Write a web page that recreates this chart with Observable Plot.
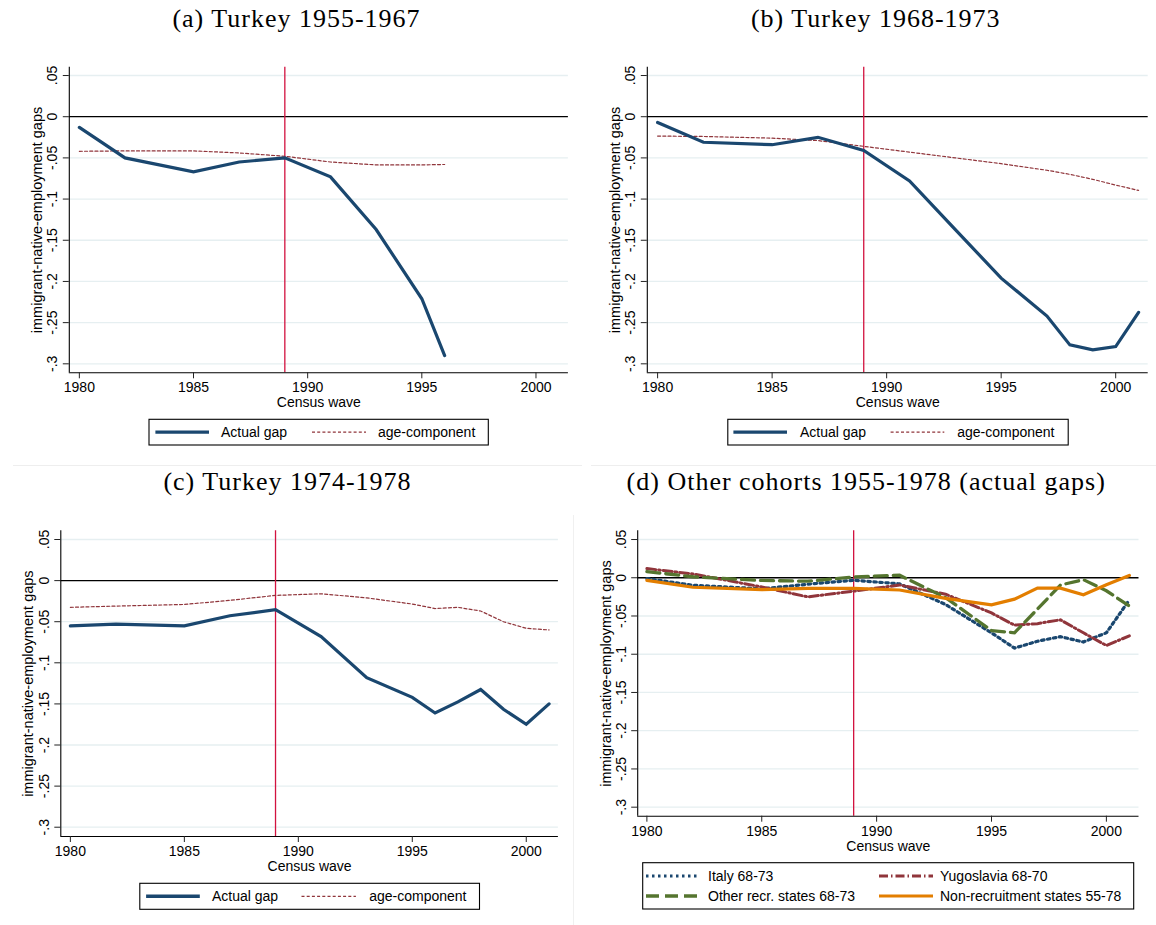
<!DOCTYPE html>
<html><head><meta charset="utf-8">
<script src="https://cdn.jsdelivr.net/npm/d3@7"></script>
<script src="https://cdn.jsdelivr.net/npm/@observablehq/plot@0.6"></script>
<style>
body{margin:0;background:#fff;}
#root{position:relative;width:1156px;height:925px;overflow:hidden;background:#fff;}
#root svg.panel{position:absolute;}
#overlay{position:absolute;left:0;top:0;pointer-events:none;}
</style></head><body><div id="root"></div>
<script>
// ---------- data ----------
const yTickValues = [0.05, 0, -0.05, -0.1, -0.15, -0.2, -0.25, -0.3];
const yTickLabels = [".05", "0", "-.05", "-.1", "-.15", "-.2", "-.25", "-.3"];
const xTickValues = [1980, 1985, 1990, 1995, 2000];
const xTickLabels = ["1980", "1985", "1990", "1995", "2000"];
const reformYear = 1989;

const titles = ["(a) Turkey 1955-1967", "(b) Turkey 1968-1973", "(c) Turkey 1974-1978", "(d) Other cohorts 1955-1978 (actual gaps)"];
const yLabel = "immigrant-native-employment gaps";
const xLabel = "Census wave";

const yearsA = [1980, 1982, 1985, 1987, 1989, 1991, 1993, 1995, 1996];
const actualA = [-0.013, -0.050, -0.067, -0.055, -0.050, -0.073, -0.137, -0.221, -0.290];
const ageA = [-0.042, -0.0415, -0.0415, -0.044, -0.048, -0.055, -0.0585, -0.0585, -0.058];

const yearsB = [1980, 1982, 1985, 1987, 1989, 1991, 1993, 1995, 1997, 1998, 1999, 2000, 2001];
const actualB = [-0.007, -0.031, -0.034, -0.025, -0.041, -0.078, -0.137, -0.196, -0.242, -0.277, -0.283, -0.279, -0.2375];
const ageB = [-0.0235, -0.024, -0.026, -0.029, -0.036, -0.043, -0.050, -0.057, -0.065, -0.070, -0.076, -0.083, -0.0895];

const yearsC = [1980, 1982, 1985, 1987, 1989, 1991, 1993, 1995, 1996, 1997, 1998, 1999, 2000, 2001];
const actualC = [-0.055, -0.053, -0.055, -0.0427, -0.0354, -0.068, -0.118, -0.142, -0.161, -0.1476, -0.1325, -0.1565, -0.1748, -0.150];
const ageC = [-0.0325, -0.031, -0.029, -0.024, -0.018, -0.016, -0.021, -0.0285, -0.034, -0.0325, -0.037, -0.050, -0.058, -0.060];

const yearsD = [1980, 1982, 1985, 1987, 1989, 1991, 1993, 1995, 1996, 1997, 1998, 1999, 2000, 2001];
const italy = [-0.001, -0.0098, -0.0145, -0.0085, -0.0032, -0.008, -0.035, -0.072, -0.092, -0.083, -0.077, -0.084, -0.072, -0.029];
const yugoslavia = [0.012, 0.005, -0.012, -0.025, -0.0175, -0.0095, -0.0215, -0.046, -0.062, -0.060, -0.055, -0.072, -0.0886, -0.076];
const otherRecr = [0.008, 0.0013, -0.0035, -0.0045, 0.001, 0.0033, -0.026, -0.069, -0.072, -0.041, -0.0095, -0.0025, -0.017, -0.037];
const nonRecr = [-0.0035, -0.0124, -0.0155, -0.014, -0.014, -0.016, -0.027, -0.0355, -0.028, -0.0134, -0.0136, -0.0222, -0.0092, 0.003];

const legendTurkey = ["Actual gap", "age-component"];
const legendOthers = ["Italy 68-73", "Yugoslavia 68-70", "Other recr. states 68-73", "Non-recruitment states 55-78"];

// ---------- styles ----------
const NAVY = "#1a476f", MAROON = "#90353b", GREEN = "#55752f", ORANGE = "#e37e00";
const RED = "#d2123f", GRID = "#e6eff1";
const SANS = "'Liberation Sans', Arial, sans-serif";
const SERIF = "'Liberation Serif', 'Times New Roman', serif";
const DOT = "2.5,3.5", DASHDOT = "9,3,1.5,3", LONGDASH = "13,6", AGEDASH = "3,2.2";

const toRows = (years, vals) => years.map((yr, i) => ({year: yr, v: vals[i]}));

function makePanel(cfg) {
  const marks = [
    Plot.ruleY(yTickValues.filter(v => v !== 0), {y: d => d, stroke: GRID, strokeWidth: 1.3}),
    Plot.ruleY([0], {stroke: "#000", strokeWidth: 1.3}),
    Plot.ruleX([reformYear], {stroke: RED, strokeWidth: 1.3}),
    ...cfg.series.map(s => Plot.line(toRows(s.years, s.values), {
      x: "year", y: "v", stroke: s.color, strokeWidth: s.width,
      strokeDasharray: s.dash || null, strokeLinejoin: "miter", strokeMiterlimit: 2
    })),
    Plot.ruleX([cfg.xDomain[0]], {stroke: "#000", strokeWidth: 1.1}),
    Plot.ruleY([cfg.yDomain[0]], {stroke: "#000", strokeWidth: 1.1}),
    Plot.axisY({ticks: yTickValues, tickFormat: () => "", tickSize: 6, stroke: "#222", label: null}),
    Plot.text(yTickValues, {y: d => d, text: (d, i) => yTickLabels[i], frameAnchor: "left",
      rotate: -90, dx: -12, textAnchor: "middle", lineAnchor: "bottom", fontSize: 14, fill: "#000"}),
    Plot.axisX({ticks: xTickValues, tickFormat: (d) => xTickLabels[xTickValues.indexOf(d)], tickSize: 6,
      tickPadding: 3.5, fontSize: 14, stroke: "#222", label: null}),
    Plot.text([xLabel], {frameAnchor: "bottom", dy: 30, lineAnchor: "middle", fontSize: 14, fill: "#000"}),
    Plot.text([yLabel], {frameAnchor: "left", rotate: -90, dx: cfg.ylabDx, textAnchor: "middle",
      lineAnchor: "middle", fontSize: 14.5, fill: "#000"})
  ];
  const svg = Plot.plot({
    width: cfg.width, height: cfg.height,
    marginLeft: cfg.mL, marginRight: cfg.mR, marginTop: cfg.mT, marginBottom: cfg.mB,
    x: {domain: cfg.xDomain, type: "linear"},
    y: {domain: cfg.yDomain, type: "linear"},
    style: {fontFamily: SANS, fontSize: "14px", background: "transparent", color: "#000"},
    marks
  });
  svg.classList.add("panel");
  svg.style.left = cfg.left + "px";
  svg.style.top = cfg.top + "px";
  svg.style.maxWidth = "none";
  document.getElementById("root").appendChild(svg);
}

makePanel({left: 0, top: 40, width: 578, height: 380, mL: 68.8, mR: 10.1, mT: 26.7, mB: 47.7,
  xDomain: [1979.56, 2001.42], yDomain: [-0.3109, 0.0601], ylabDx: -32,
  series: [
    {years: yearsA, values: ageA, color: MAROON, width: 1.2, dash: AGEDASH},
    {years: yearsA, values: actualA, color: NAVY, width: 3.2}
  ]});
makePanel({left: 578, top: 40, width: 578, height: 380, mL: 68.8, mR: 8.3, mT: 26.7, mB: 47.7,
  xDomain: [1979.55, 2001.42], yDomain: [-0.3109, 0.0601], ylabDx: -32,
  series: [
    {years: yearsB, values: ageB, color: MAROON, width: 1.2, dash: AGEDASH},
    {years: yearsB, values: actualB, color: NAVY, width: 3.2}
  ]});
makePanel({left: 0, top: 500, width: 578, height: 380, mL: 60.3, mR: 20.1, mT: 30.3, mB: 44,
  xDomain: [1979.58, 2001.41], yDomain: [-0.3113, 0.0606], ylabDx: -32.6,
  series: [
    {years: yearsC, values: ageC, color: MAROON, width: 1.2, dash: AGEDASH},
    {years: yearsC, values: actualC, color: NAVY, width: 3.2}
  ]});
makePanel({left: 578, top: 500, width: 578, height: 360, mL: 59.2, mR: 17.5, mT: 30.3, mB: 44.3,
  xDomain: [1979.6, 2001.42], yDomain: [-0.3118, 0.0614], ylabDx: -31.5,
  series: [
    {years: yearsD, values: italy, color: NAVY, width: 3.2, dash: DOT},
    {years: yearsD, values: yugoslavia, color: MAROON, width: 3, dash: DASHDOT},
    {years: yearsD, values: otherRecr, color: GREEN, width: 3.3, dash: LONGDASH},
    {years: yearsD, values: nonRecr, color: ORANGE, width: 3.2}
  ]});

// ---------- overlay: titles, legends, separators ----------
const NS = "http://www.w3.org/2000/svg";
const ov = document.createElementNS(NS, "svg");
ov.setAttribute("id", "overlay");
ov.setAttribute("width", 1156); ov.setAttribute("height", 925);
document.getElementById("root").appendChild(ov);
function el(tag, attrs, text) {
  const e = document.createElementNS(NS, tag);
  for (const k in attrs) e.setAttribute(k, attrs[k]);
  if (text != null) e.textContent = text;
  ov.appendChild(e);
  return e;
}
// faint separators
el("line", {x1: 13, x2: 582, y1: 465.5, y2: 465.5, stroke: "#eeeeee", "stroke-width": 1});
el("line", {x1: 591, x2: 1156, y1: 465.5, y2: 465.5, stroke: "#eeeeee", "stroke-width": 1});
el("line", {x1: 573.5, x2: 573.5, y1: 515, y2: 925, stroke: "#f0f0f0", "stroke-width": 1});

// titles
const titlePos = [[296.5, 27], [875.8, 27], [287.5, 490], [866.2, 490]];
titles.forEach((t, i) => el("text", {x: titlePos[i][0], y: titlePos[i][1], "text-anchor": "middle",
  "font-family": SERIF, "font-size": 26, "letter-spacing": 1, fill: "#000"}, t));

// Turkey legends
function turkeyLegend(box, s1, t1, s2, t2) {
  el("rect", {x: box[0], y: box[1], width: box[2] - box[0], height: box[3] - box[1], fill: "#fff", stroke: "#000", "stroke-width": 1.1});
  const cy = (box[1] + box[3]) / 2;
  el("line", {x1: s1[0], x2: s1[1], y1: cy, y2: cy, stroke: NAVY, "stroke-width": 3.4});
  el("text", {x: t1, y: cy + 5, "font-family": SANS, "font-size": 14, fill: "#000"}, legendTurkey[0]);
  el("line", {x1: s2[0], x2: s2[1], y1: cy, y2: cy, stroke: MAROON, "stroke-width": 1.2, "stroke-dasharray": AGEDASH});
  el("text", {x: t2, y: cy + 5, "font-family": SANS, "font-size": 14, fill: "#000"}, legendTurkey[1]);
}
turkeyLegend([149, 419.3, 488.3, 445], [155.4, 209], 221, [312, 366], 378);
turkeyLegend([727.8, 419.3, 1068.2, 445], [733.4, 787], 800, [890.6, 944.3], 957.2);
turkeyLegend([139.8, 883.3, 479.5, 909.3], [146.1, 199.8], 212, [301.5, 355.9], 369.2);

// Others legend
el("rect", {x: 642.7, y: 862.7, width: 491, height: 46.3, fill: "#fff", stroke: "#000", "stroke-width": 1.1});
const oItems = [
  {x1: 646, x2: 700, tx: 708, y: 876, color: NAVY, dash: DOT, w: 3.2},
  {x1: 879, x2: 933, tx: 940, y: 876, color: MAROON, dash: DASHDOT, w: 3},
  {x1: 646, x2: 700, tx: 708, y: 896, color: GREEN, dash: LONGDASH, w: 3.3},
  {x1: 879, x2: 933, tx: 940, y: 896, color: ORANGE, dash: null, w: 3.2}
];
oItems.forEach((it, i) => {
  const a = {x1: it.x1, x2: it.x2, y1: it.y, y2: it.y, stroke: it.color, "stroke-width": it.w};
  if (it.dash) a["stroke-dasharray"] = it.dash;
  el("line", a);
  el("text", {x: it.tx, y: it.y + 5, "font-family": SANS, "font-size": 14, fill: "#000"}, legendOthers[i]);
});
</script></body></html>
